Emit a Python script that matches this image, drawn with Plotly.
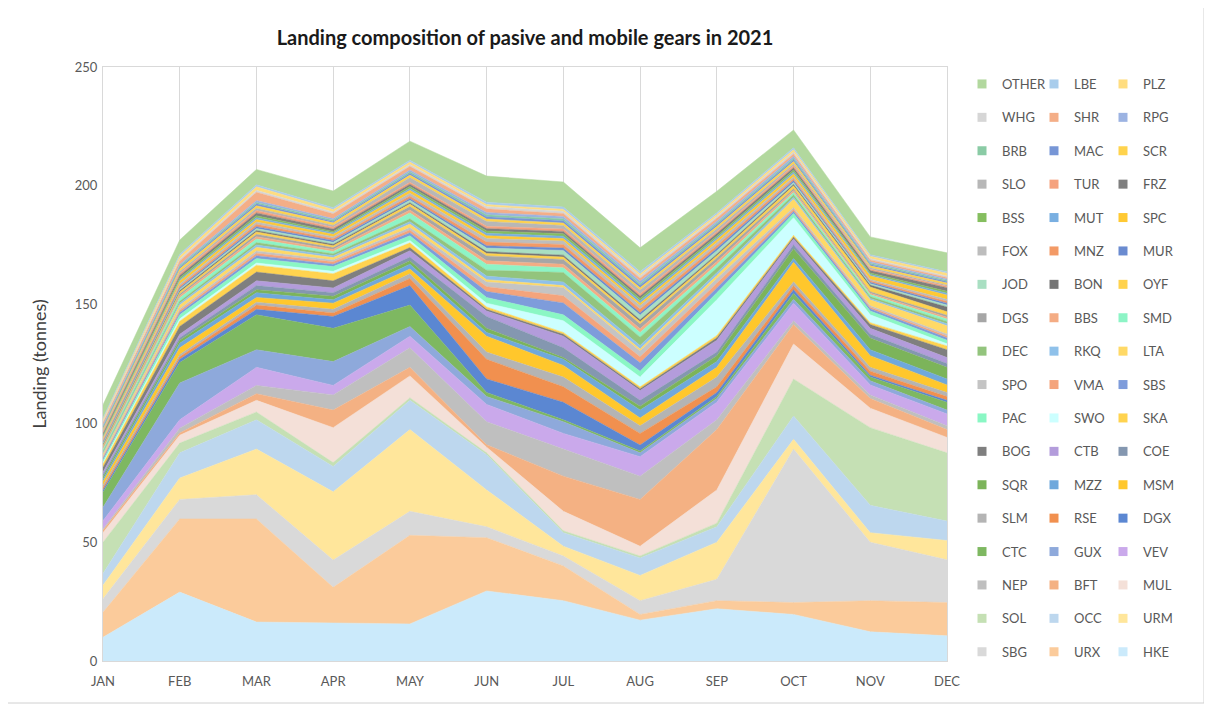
import plotly.graph_objects as go

months = ["JAN", "FEB", "MAR", "APR", "MAY", "JUN", "JUL", "AUG", "SEP", "OCT", "NOV", "DEC"]

# landings (tonnes) per species, listed bottom of stack -> top
HKE = [10.0, 29.0, 16.4, 15.9, 15.6, 29.5, 25.4, 17.2, 22.0, 19.6, 12.3, 10.6]
URX = [10.5, 30.8, 43.4, 15.1, 37.3, 22.4, 14.6, 2.4, 3.4, 5.0, 13.1, 14.0]
SBG = [5.7, 8.2, 10.2, 11.5, 10.1, 4.6, 4.2, 5.8, 9.0, 64.6, 24.6, 18.0]
URM = [5.7, 9.0, 19.2, 28.7, 34.4, 15.5, 4.1, 10.6, 15.6, 4.1, 4.0, 8.1]
OCC = [4.9, 10.6, 12.3, 10.7, 12.3, 14.8, 5.7, 7.4, 6.5, 9.8, 11.5, 8.2]
SOL = [13.2, 4.1, 3.3, 1.6, 1.1, 0.8, 0.8, 0.8, 1.5, 15.6, 32.7, 28.7]
MUL = [4.0, 3.3, 4.9, 14.7, 9.2, 2.4, 8.2, 4.1, 14.0, 14.7, 8.2, 6.5]
BFT = [1.0, 1.0, 2.8, 7.4, 3.6, 1.0, 14.8, 19.7, 25.4, 8.2, 4.1, 3.3]
NEP = [0.6, 2.0, 3.5, 6.4, 8.2, 9.7, 11.4, 9.8, 4.1, 1.6, 1.5, 1.6]
VEV = [3.4, 3.5, 7.6, 4.0, 4.9, 7.3, 6.6, 8.2, 7.4, 7.4, 4.2, 5.0]
GUX = [5.7, 15.5, 7.4, 10.0, 4.1, 3.3, 4.9, 1.6, 1.6, 1.6, 1.7, 1.6]
CTC = [6.3, 8.6, 14.7, 14.0, 9.0, 1.7, 0.8, 0.8, 0.8, 2.5, 1.6, 3.3]
DGX = [1.0, 1.4, 2.3, 5.0, 8.2, 5.7, 7.4, 2.5, 1.7, 1.6, 0.8, 0.8]
RSE = [1.0, 1.0, 1.8, 1.5, 3.0, 8.3, 6.5, 4.9, 2.4, 1.7, 1.7, 1.6]
SLM = [1.0, 1.0, 1.2, 1.5, 2.0, 3.0, 4.1, 3.2, 4.1, 1.6, 1.6, 1.7]
MSM = [1.5, 2.8, 2.0, 2.6, 2.0, 6.7, 4.9, 3.3, 4.1, 8.2, 4.9, 3.2]
MZZ = [1.0, 1.9, 2.0, 1.4, 2.0, 1.6, 2.6, 3.3, 2.4, 1.6, 2.5, 2.5]
SQR = [1.0, 1.3, 1.3, 1.5, 1.5, 1.7, 0.7, 1.6, 2.5, 4.1, 4.9, 4.9]
COE = [1.0, 1.0, 1.7, 1.5, 1.5, 5.0, 4.1, 2.5, 1.5, 1.7, 1.6, 1.6]
CTB = [1.0, 1.5, 2.0, 2.0, 2.7, 2.3, 4.9, 4.1, 5.0, 2.4, 2.5, 2.5]
BOG = [2.0, 3.3, 3.7, 3.0, 1.3, 0.7, 0.8, 0.8, 1.0, 0.8, 1.6, 3.3]
SKA = [1.5, 2.2, 2.9, 3.0, 2.0, 1.0, 0.8, 0.8, 1.0, 0.8, 0.8, 1.6]
SWO = [0.5, 1.0, 0.9, 1.0, 1.0, 1.6, 4.9, 4.1, 15.0, 7.4, 3.3, 0.9]
PAC = [1.0, 1.7, 1.9, 2.0, 2.0, 2.4, 2.5, 2.5, 3.0, 1.7, 1.6, 1.5]
SBS = [0.8, 1.0, 1.2, 1.0, 1.2, 2.5, 5.0, 3.5, 2.0, 1.0, 1.0, 1.0]
VMA = [0.5, 0.8, 1.0, 1.0, 1.2, 2.0, 3.0, 2.5, 2.0, 0.8, 0.6, 0.8]
SPO = [0.6, 0.8, 1.0, 0.8, 1.0, 2.0, 3.5, 2.5, 2.0, 0.8, 0.6, 0.8]
LTA = [0.8, 1.5, 1.5, 1.0, 1.5, 1.0, 0.8, 0.8, 1.2, 3.5, 2.5, 3.5]
RKQ = [0.5, 0.8, 1.0, 0.8, 1.0, 1.5, 1.5, 1.5, 1.2, 0.8, 0.6, 0.8]
DEC = [0.6, 0.8, 1.0, 0.8, 1.2, 2.5, 4.0, 3.5, 2.0, 1.0, 0.8, 1.0]
SMD = [0.8, 1.5, 1.5, 1.0, 2.5, 2.5, 2.0, 2.0, 1.5, 1.0, 0.8, 1.0]
BBS = [0.5, 0.8, 1.0, 0.8, 1.2, 1.5, 1.5, 1.5, 1.2, 0.8, 0.6, 0.8]
DGS = [0.6, 0.8, 1.0, 0.8, 1.5, 2.0, 2.0, 2.0, 1.5, 0.8, 0.6, 0.8]
OYF = [0.6, 0.8, 1.0, 0.8, 1.0, 1.0, 1.0, 1.0, 1.0, 1.2, 2.0, 1.5]
BON = [0.4, 0.6, 0.6, 0.6, 0.6, 0.8, 0.8, 0.8, 0.6, 0.6, 0.8, 2.0]
JOD = [0.5, 0.6, 0.8, 0.8, 1.0, 1.5, 2.0, 2.0, 1.5, 0.8, 0.6, 0.8]
MUR = [0.5, 0.6, 0.8, 0.8, 0.8, 1.0, 1.0, 1.0, 1.0, 0.8, 0.6, 0.8]
MNZ = [0.6, 0.8, 1.0, 0.8, 1.0, 1.5, 1.5, 1.5, 1.2, 0.8, 0.6, 0.8]
FOX = [0.6, 0.8, 1.0, 0.8, 1.2, 1.5, 1.5, 1.5, 1.2, 0.8, 0.6, 0.8]
SPC = [0.8, 1.2, 1.0, 1.0, 1.2, 1.2, 1.0, 1.0, 1.2, 1.2, 1.5, 1.8]
MUT = [0.5, 0.6, 0.8, 0.6, 0.8, 1.0, 1.0, 1.0, 0.8, 0.8, 0.6, 0.8]
BSS = [0.5, 0.8, 0.8, 0.6, 0.8, 1.0, 1.0, 1.0, 0.8, 0.8, 0.6, 0.8]
FRZ = [0.6, 1.0, 1.2, 1.0, 1.0, 1.0, 1.0, 1.0, 1.0, 1.0, 1.0, 1.5]
TUR = [0.6, 0.8, 1.0, 0.8, 0.8, 1.0, 1.0, 1.0, 0.8, 0.8, 0.6, 0.6]
SLO = [0.6, 0.8, 1.0, 0.8, 2.0, 2.0, 1.5, 1.5, 1.2, 0.8, 0.6, 0.6]
SCR = [0.8, 1.2, 1.0, 1.0, 1.0, 1.0, 1.0, 1.0, 1.0, 1.0, 0.8, 0.8]
MAC = [0.5, 0.6, 0.8, 0.6, 0.8, 1.0, 1.0, 1.0, 0.8, 0.8, 0.6, 0.6]
BRB = [0.5, 0.6, 0.6, 0.6, 0.6, 0.8, 0.8, 0.8, 0.6, 0.6, 0.5, 0.5]
RPG = [0.5, 0.6, 0.8, 0.6, 0.8, 1.0, 1.0, 1.0, 0.8, 0.8, 0.6, 0.6]
SHR = [1.0, 1.5, 3.5, 2.0, 1.5, 1.5, 1.2, 1.2, 1.2, 1.0, 0.8, 0.6]
WHG = [0.6, 0.8, 0.8, 0.8, 0.8, 1.0, 1.0, 1.0, 0.8, 0.8, 0.6, 0.6]
PLZ = [0.8, 1.2, 1.5, 1.0, 1.0, 0.8, 0.8, 0.8, 0.8, 1.0, 1.0, 1.2]
LBE = [0.6, 0.8, 0.8, 0.8, 0.8, 1.0, 1.0, 1.0, 0.8, 0.8, 0.6, 0.6]
OTHER = [5.5, 6.0, 6.5, 7.0, 8.0, 11.0, 10.5, 10.0, 9.0, 7.5, 7.5, 8.0]

series = [
    ("HKE", HKE), ("URX", URX), ("SBG", SBG), ("URM", URM), ("OCC", OCC), ("SOL", SOL),
    ("MUL", MUL), ("BFT", BFT), ("NEP", NEP), ("VEV", VEV), ("GUX", GUX), ("CTC", CTC),
    ("DGX", DGX), ("RSE", RSE), ("SLM", SLM), ("MSM", MSM), ("MZZ", MZZ), ("SQR", SQR),
    ("COE", COE), ("CTB", CTB), ("BOG", BOG), ("SKA", SKA), ("SWO", SWO), ("PAC", PAC),
    ("SBS", SBS), ("VMA", VMA), ("SPO", SPO), ("LTA", LTA), ("RKQ", RKQ), ("DEC", DEC),
    ("SMD", SMD), ("BBS", BBS), ("DGS", DGS), ("OYF", OYF), ("BON", BON), ("JOD", JOD),
    ("MUR", MUR), ("MNZ", MNZ), ("FOX", FOX), ("SPC", SPC), ("MUT", MUT), ("BSS", BSS),
    ("FRZ", FRZ), ("TUR", TUR), ("SLO", SLO), ("SCR", SCR), ("MAC", MAC), ("BRB", BRB),
    ("RPG", RPG), ("SHR", SHR), ("WHG", WHG), ("PLZ", PLZ), ("LBE", LBE), ("OTHER", OTHER),
]

colors = {
    "HKE": "#CBEAFB", "URX": "#FBCB9B", "SBG": "#D9D9D9", "URM": "#FFE69B", "OCC": "#BDD7EE",
    "SOL": "#C5E0B4", "MUL": "#F4E0D8", "BFT": "#F4B183", "NEP": "#BFBFBF", "VEV": "#CAA9EB",
    "GUX": "#8EA9DB", "CTC": "#7EB861", "DGX": "#5B87D2", "RSE": "#F1904F", "SLM": "#B4B4B4",
    "MSM": "#FFC72C", "MZZ": "#6FA8DC", "SQR": "#7CB45A", "COE": "#8497B0", "CTB": "#B39CDB",
    "BOG": "#7F7F7F", "SKA": "#FFD34F", "SWO": "#CCFFFF", "PAC": "#8AF7C4", "SBS": "#7E9CDB",
    "VMA": "#F4A47C", "SPO": "#C4C4C4", "LTA": "#FFD966", "RKQ": "#8FC1EA", "DEC": "#93C47D",
    "SMD": "#8DF4C6", "BBS": "#F4AC84", "DGS": "#A6A6A6", "OYF": "#FFD24D", "BON": "#767676",
    "JOD": "#A9DFC2", "MUR": "#6A8BD0", "MNZ": "#F39A66", "FOX": "#BDBDBD", "SPC": "#FFC933",
    "MUT": "#79AFE1", "BSS": "#85BE5F", "FRZ": "#7F7F7F", "TUR": "#F5A27E", "SLO": "#B7B7B7",
    "SCR": "#FFD34D", "MAC": "#7796D6", "BRB": "#8ACBA5", "RPG": "#9CB3E2", "SHR": "#F4AE87",
    "WHG": "#D6D6D6", "PLZ": "#FFDD80", "LBE": "#A9CDEC", "OTHER": "#B2D89E",
}

legend_columns = [
    ["OTHER", "WHG", "BRB", "SLO", "BSS", "FOX", "JOD", "DGS", "DEC", "SPO", "PAC", "BOG",
     "SQR", "SLM", "CTC", "NEP", "SOL", "SBG"],
    ["LBE", "SHR", "MAC", "TUR", "MUT", "MNZ", "BON", "BBS", "RKQ", "VMA", "SWO", "CTB",
     "MZZ", "RSE", "GUX", "BFT", "OCC", "URX"],
    ["PLZ", "RPG", "SCR", "FRZ", "SPC", "MUR", "OYF", "SMD", "LTA", "SBS", "SKA", "COE",
     "MSM", "DGX", "VEV", "MUL", "URM", "HKE"],
]

# the page body has an 8px margin, so the figure is drawn 8px in from the window corner
OFF = 8
W, H = 1212 - OFF, 709 - OFF
L, R, T, B = 103 - OFF, 947 - OFF, 67 - OFF, 661 - OFF


def px_x(p):
    """page pixel x -> paper coordinate"""
    return (p - OFF - L) / (R - L)


def px_y(p):
    """page pixel y -> paper coordinate"""
    return (B - (p - OFF)) / (B - T)


fig = go.Figure()
for name, vals in series:
    fig.add_trace(go.Scatter(
        x=months, y=vals, name=name, mode="lines", stackgroup="one",
        line=dict(width=0.5, color=colors[name]), fillcolor=colors[name],
        showlegend=False, legendgroup=name,
    ))

legend_ids = ["legend", "legend2", "legend3"]
for col, lid in zip(legend_columns, legend_ids):
    for name in col:
        fig.add_trace(go.Scatter(
            x=[None], y=[None], mode="markers", name=name,
            marker=dict(symbol="square", size=9, color=colors[name]),
            legend=lid, legendgroup=name, showlegend=True,
        ))

legend_style = dict(
    font=dict(family="Lato, Arial", size=13, color="#595959"),
    traceorder="grouped", tracegroupgap=13.5, itemwidth=30,
    bgcolor="rgba(0,0,0,0)", xanchor="left", yanchor="top",
    maxheight=690,
)
legend_text_x = [1002, 1074, 1143]
layout_legends = {}
for lid, xt in zip(legend_ids, legend_text_x):
    layout_legends[lid] = dict(x=px_x(xt - 40), y=px_y(69), **legend_style)

fig.update_layout(
    width=W, height=H,
    margin=dict(l=L, r=W - R, t=T, b=H - B, autoexpand=False),
    paper_bgcolor="white", plot_bgcolor="white",
    font=dict(family="Lato, Arial", color="#595959"),
    title=dict(
        text="<b>Landing composition of pasive and mobile gears in 2021</b>",
        x=(525 - OFF) / W, xanchor="center", y=1 - (38 - OFF) / H, yanchor="middle",
        font=dict(family="Lato, Arial", size=20, color="#1a1a1a"),
    ),
    xaxis=dict(
        type="category", range=[0, 11], showgrid=True, gridcolor="#D9D9D9", gridwidth=1,
        showline=True, linecolor="#D9D9D9", mirror=True, ticks="",
        tickfont=dict(size=13, color="#595959"), zeroline=False, ticklabelstandoff=8,
    ),
    yaxis=dict(
        range=[0, 250], dtick=50, showgrid=False, showline=True, linecolor="#D9D9D9",
        mirror=True, ticks="", tickfont=dict(size=13, color="#595959"), zeroline=False,
        ticklabelstandoff=2,
        title=dict(text="Landing (tonnes)", font=dict(size=18, color="#404040"), standoff=23),
    ),
    **layout_legends,
)

# chart-area frame (right and bottom edges visible in the reference)
fig.add_shape(type="line", xref="paper", yref="paper",
              x0=px_x(1204), x1=px_x(1204), y0=px_y(703), y1=px_y(8),
              line=dict(color="#D0D0D0", width=1))
fig.add_shape(type="line", xref="paper", yref="paper",
              x0=px_x(8), x1=px_x(1204), y0=px_y(703), y1=px_y(703),
              line=dict(color="#D0D0D0", width=1))

fig.write_html("out.html")
